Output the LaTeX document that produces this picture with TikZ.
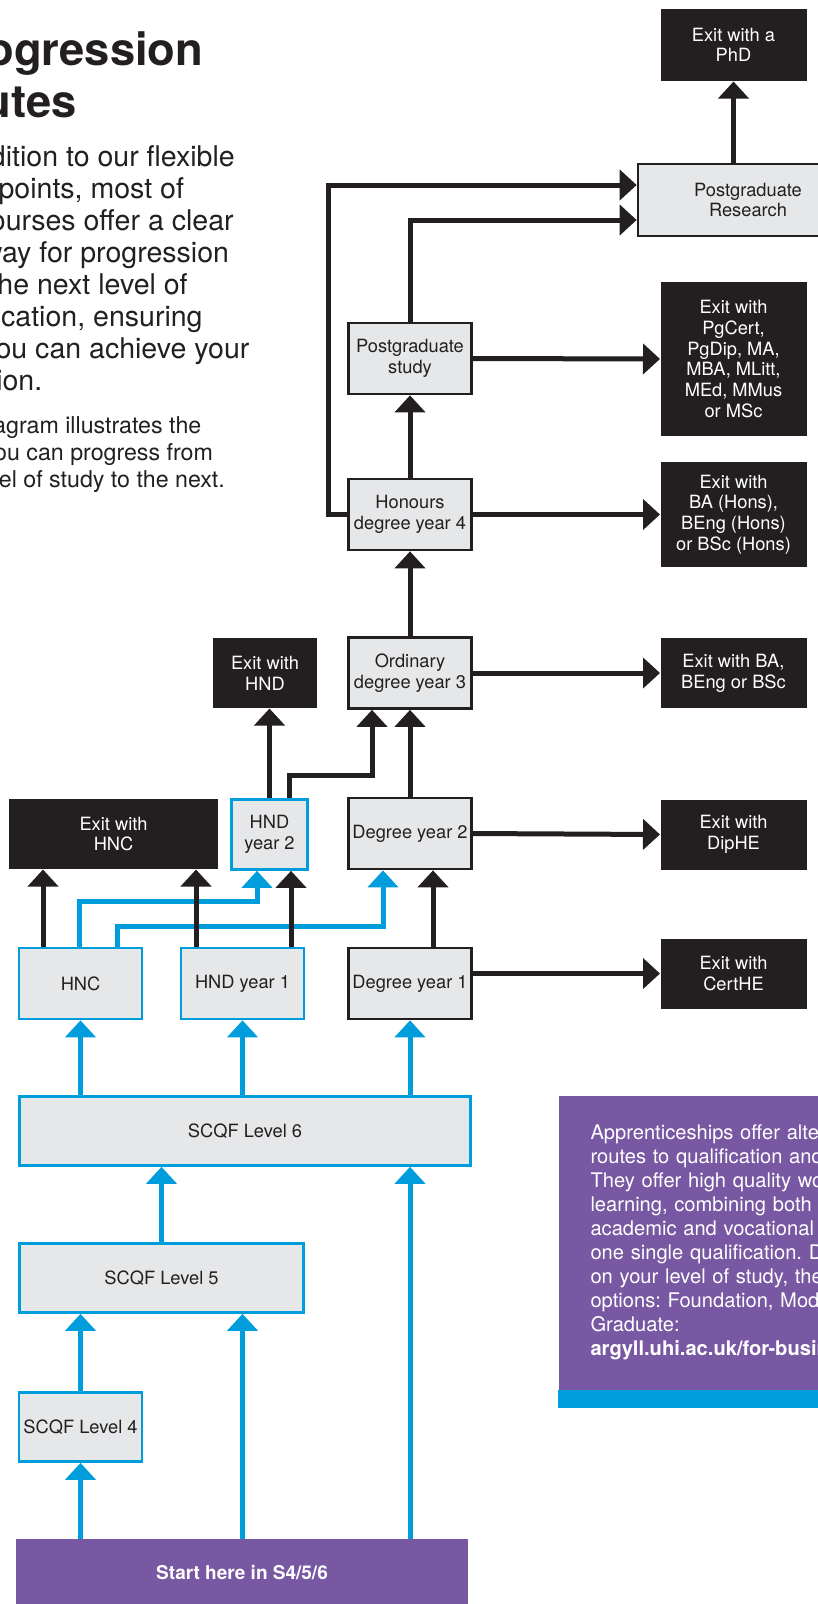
\documentclass[tikz,border=0pt]{standalone}
\usepackage{fontspec}
\setmainfont{TeX Gyre Heros}
\usetikzlibrary{arrows.meta,calc}

\definecolor{ink}{RGB}{35,31,32}
\definecolor{uhiblue}{RGB}{0,157,220}
\definecolor{uhipurple}{RGB}{121,88,163}
\definecolor{boxgrey}{RGB}{230,231,232}

\newdimen\unitpx \unitpx=0.75pt

\tikzset{every picture/.style={line width=0.75pt},
	boxtext/.style={font=\fontsize{13.7}{15.5}\selectfont, align=center, inner sep=0pt},
	greybox/.style={boxtext, draw=ink, fill=boxgrey, line width=2pt, text=ink},
	bluebox/.style={greybox, draw=uhiblue},
	exitbox/.style={boxtext, fill=ink, text=white},
	colbox/.style={minimum width=123\unitpx, minimum height=71\unitpx},
	exitcol/.style={minimum width=146\unitpx, minimum height=70\unitpx},
	sidetext/.style={anchor=base west, align=left, inner sep=0pt, text=ink},
	link/.style={line width=3.75pt, draw=ink, -{Triangle[length=12.75pt,width=22.5pt]}},
	bluelink/.style={link, draw=uhiblue}}

\begin{document}
\frenchspacing
\begin{tikzpicture}[x=0.75pt,y=0.75pt,yscale=-1,xscale=1]
	\useasboundingbox (0,0) rectangle (818,1604);
	\clip (0,0) rectangle (818,1604);

	% Text Node (placed by the baseline of the last line)
	\node[sidetext, font=\fontsize{34}{39}\selectfont\bfseries] (title) at (-62,117) {Progression\\routes};
	% Text Node
	\node[sidetext, font=\fontsize{21.4}{24}\selectfont] (intro) at (-74,390) {In addition to our flexible\\entry points, most of\\our courses offer a clear\\pathway for progression\\onto the next level of\\qualification, ensuring\\that you can achieve your\\ambition.};
	% Text Node
	\node[sidetext, font=\fontsize{17.4}{20.25}\selectfont] (note) at (-75.6,487) {This diagram illustrates the\\ways you can progress from\\one level of study to the next.};

	%Shape: Rectangle, higher levels
	\node[greybox, minimum width=220\unitpx, minimum height=72\unitpx] (pgres) at (748,200) {Postgraduate\\Research};
	\node[exitbox, exitcol, minimum height=72\unitpx] (phd) at (733.5,45) {Exit with a\\PhD};
	\node[greybox, colbox] (pgstudy) at (410,358.5) {Postgraduate\\study};
	\node[exitbox, exitcol, minimum height=154\unitpx] (pgexit) at (733.5,359) {Exit with\\PgCert,\\PgDip, MA,\\MBA, MLitt,\\MEd, MMus\\or MSc};
	\node[greybox, colbox] (honours) at (410,514.5) {Honours\\degree year 4};
	\node[exitbox, exitcol, minimum height=105\unitpx] (honsexit) at (733.5,514.5) {Exit with\\BA (Hons),\\BEng (Hons)\\or BSc (Hons)};
	\node[greybox, colbox] (ordinary) at (410,673) {Ordinary\\degree year 3};
	\node[exitbox, exitcol] (ordexit) at (733.5,673) {Exit with BA,\\BEng or BSc};
	\node[exitbox, minimum width=104\unitpx, minimum height=70\unitpx] (hndexit) at (265,673) {Exit with\\HND};

	%Shape: Rectangle, college levels
	\node[exitbox, minimum width=209\unitpx, minimum height=70\unitpx] (hncexit) at (113.5,834) {Exit with\\HNC};
	\node[bluebox, minimum width=76\unitpx, minimum height=70\unitpx] (hndtwo) at (269.5,834.5) {HND\\year 2};
	\node[greybox, colbox] (degtwo) at (410,833.5) {Degree year 2};
	\node[exitbox, exitcol] (dipexit) at (733.5,834.5) {Exit with\\DipHE};
	\node[bluebox, colbox] (hnc) at (80.5,983.5) {HNC};
	\node[bluebox, colbox] (hndone) at (242.5,983.5) {HND year 1};
	\node[greybox, colbox] (degone) at (410,983.5) {Degree year 1};
	\node[exitbox, exitcol] (certexit) at (733.5,973.5) {Exit with\\CertHE};

	%Shape: Rectangle, SCQF levels
	\node[bluebox, minimum width=451\unitpx, minimum height=69\unitpx] (levelsix) at (245,1131) {SCQF Level 6};
	\node[bluebox, minimum width=284\unitpx, minimum height=69\unitpx] (levelfive) at (161.5,1278) {SCQF Level 5};
	\node[bluebox, colbox, minimum height=69\unitpx] (levelfour) at (80.5,1427) {SCQF Level 4};
	\node[fill=uhipurple, text=white, inner sep=0pt, minimum width=452\unitpx, minimum height=68\unitpx, font=\fontsize{14.25}{16}\selectfont\bfseries] (start) at (242,1573) {Start here in S4/5/6};

	%Shape: Rectangle, apprenticeships
	\node[anchor=north west, fill=uhipurple, text=white, align=left, inner sep=0pt, inner xsep=24pt, text width=300pt, minimum height=294\unitpx, font=\fontsize{15.1}{18}\selectfont] (info) at (558,1095) {Apprenticeships offer alternative\\routes to qualification and\\They offer high quality work-based\\learning, combining both the\\academic and vocational\\one single qualification. Depending\\on your level of study, there\\options: Foundation, Modern\\Graduate:\\\textbf{argyll.uhi.ac.uk/for-business}};
	\fill[uhiblue] (info.south west) rectangle ($(info.south east)+(0,18)$);

	% connector ends
	\coordinate (hncleft) at ($(hnc.north)+(-37.5,0)$);
	\coordinate (hndoneleft) at ($(hndone.north)+(-46.5,0)$);
	\coordinate (hndoneright) at ($(hndone.north)+(48.5,0)$);

	%Straight Lines, blue routes
	\draw[bluelink] ($(hnc.north)+(-1.5,0)$) -- ++(0,-45) -| ($(hndtwo.south)+(-12.5,0)$);
	\draw[bluelink] ($(hnc.north)+(36.5,0)$) -- ++(0,-20) -| ($(degtwo.south)+(-27,0)$);
	\draw[bluelink] (levelsix.north -| hnc) -- (hnc.south);
	\draw[bluelink] (levelsix.north -| hndone) -- (hndone.south);
	\draw[bluelink] (levelsix.north -| degone) -- (degone.south);
	\draw[bluelink] (levelfive.north) -- (levelsix.south -| levelfive.north);
	\draw[bluelink] (start.north -| degone) -- (levelsix.south -| degone);
	\draw[bluelink] (levelfour.north) -- (levelfive.south -| levelfour.north);
	\draw[bluelink] (start.north -| hndone) -- (levelfive.south -| hndone);
	\draw[bluelink] (start.north -| levelfour) -- (levelfour.south);

	%Straight Lines, black routes
	\draw[link] (hncleft) -- (hncleft |- hncexit.south);
	\draw[link] (hndoneleft) -- (hndoneleft |- hncexit.south);
	\draw[link] (hndoneright) -- (hndoneright |- hndtwo.south);
	\draw[link] ($(degone.north)+(23,0)$) -- ($(degtwo.south)+(23,0)$);
	\draw[link] (degone.east |- certexit.west) -- (certexit.west);
	\draw[link] (degtwo.east) -- (dipexit.west);
	\draw[link] (hndtwo.north) -- (hndtwo.north |- hndexit.south);
	\draw[link] ($(hndtwo.north)+(20,0)$) -- ++(0,-23) -| ($(ordinary.south)+(-38,0)$);
	\draw[link] (degtwo.north) -- (ordinary.south);
	\draw[link] (ordinary.east) -- (ordexit.west);
	\draw[link] (ordinary.north) -- (honours.south);
	\draw[link] (honours.east) -- (honsexit.west);
	\draw[link] (honours.north) -- (pgstudy.south);
	\draw[link] (pgstudy.east) -- (pgexit.west);
	\draw[link] (honours.west) -- ++(-19,0) |- ($(pgres.west)+(0,-15)$);
	\draw[link] (pgstudy.north) |- ($(pgres.west)+(0,20)$);
	\draw[link] (phd.south |- pgres.north) -- (phd.south);

\end{tikzpicture}
\end{document}
